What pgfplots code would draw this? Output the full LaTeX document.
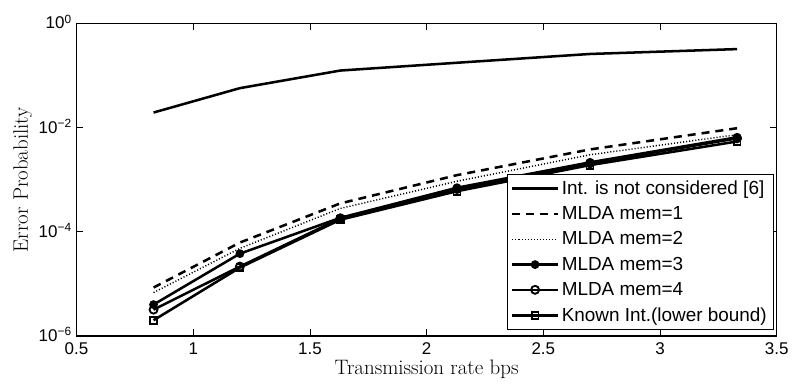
\documentclass[border=0pt]{standalone}
\usepackage{fontspec}
\usepackage{pgfplots}
\pgfplotsset{compat=1.18}
\newfontfamily\arial{Liberation Sans}
\begin{document}
\begin{tikzpicture}
\begin{axis}[
  scale only axis,
  width=525.75pt, height=234.75pt,
  xmode=normal, ymode=log,
  xmin=0.5, xmax=3.5, ymin=1e-6, ymax=1,
  xtick={0.5,1,1.5,2,2.5,3,3.5},
  ytick={1e-6,1e-4,1e-2,1},
  yticklabels={10\textsuperscript{−6},10\textsuperscript{−4},10\textsuperscript{−2},10\textsuperscript{0}},
  yminorticks=false,
  tick align=inside,
  major tick length=5pt,
  axis line style={line width=0.8pt},
  every tick/.style={black, line width=0.6pt},
  tick label style={font=\arial\fontsize{12.75}{14}\selectfont},
  xticklabel style={yshift=-1.5pt},
  yticklabel style={yshift=1pt},
  /pgf/number format/assume math mode=true,
  xlabel={Transmission rate bps},
  ylabel={Error Probability},
  label style={font=\fontsize{15.7}{18}\selectfont},
  xlabel style={yshift=3pt},
  ylabel style={yshift=-2pt},
  legend cell align=left,
  legend style={at={(rel axis cs:0.996,0.018)}, anchor=south east,
    draw=black, line width=0.8pt, font=\arial\fontsize{14.2}{16}\selectfont,
    row sep=3.6pt, inner sep=3pt},
  legend image code/.code={\draw[mark repeat=2,mark phase=2,#1] plot coordinates {(0cm,0cm) (0.6cm,0cm) (1.2cm,0cm)};},
  every axis plot/.append style={line width=1.9pt, black},
]
\addplot[mark=none] coordinates {(0.83,0.0194)(1.2,0.057)(1.63,0.124)(2.13,0.175)(2.7,0.258)(3.33,0.32)};
\addlegendentry{Int. is not considered [6]}
\addplot[mark=none, dash pattern=on 6pt off 4.5pt] coordinates {(0.83,8.5e-6)(1.2,6.2e-5)(1.63,3.5e-4)(2.13,1.22e-3)(2.7,3.8e-3)(3.33,9.7e-3)};
\addlegendentry{MLDA mem=1}
\addplot[mark=none, line width=1.1pt, dash pattern=on 0.8pt off 1.5pt] coordinates {(0.83,6.8e-6)(1.2,4.8e-5)(1.63,2.8e-4)(2.13,9.3e-4)(2.7,3.0e-3)(3.33,7.3e-3)};
\addlegendentry{MLDA mem=2}
\addplot[mark=*, mark size=2.3pt, mark options={solid, fill=black}] coordinates {(0.83,4e-6)(1.2,3.8e-5)(1.63,1.85e-4)(2.13,7e-4)(2.7,2.15e-3)(3.33,6.5e-3)};
\addlegendentry{MLDA mem=3}
\addplot[mark=o, mark size=3pt, mark options={solid, line width=1.4pt}] coordinates {(0.83,3.2e-6)(1.2,2.15e-5)(1.63,1.8e-4)(2.13,6.6e-4)(2.7,2.05e-3)(3.33,6.2e-3)};
\addlegendentry{MLDA mem=4}
\addplot[mark=square, mark size=2.6pt, mark options={solid, line width=1.4pt}] coordinates {(0.83,2.0e-6)(1.2,2.05e-5)(1.63,1.7e-4)(2.13,6.0e-4)(2.7,1.9e-3)(3.33,5.4e-3)};
\addlegendentry{Known Int.(lower bound)}
\end{axis}
\path[use as bounding box] ([shift={(-57.45pt,-38.6pt)}]current axis.south west) rectangle ([shift={(11.5pt,17.5pt)}]current axis.north east);
\end{tikzpicture}
\end{document}
